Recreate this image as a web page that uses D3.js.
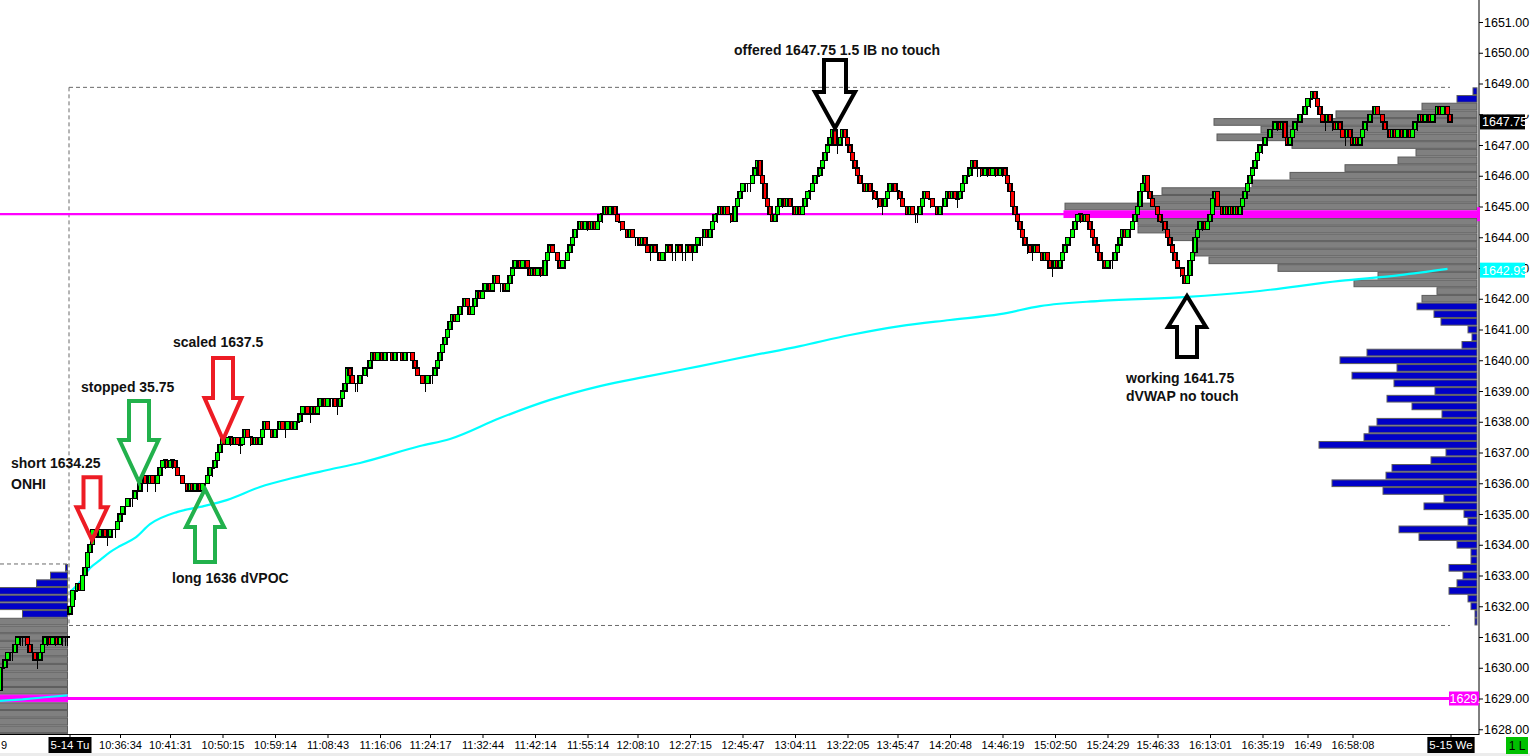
<!DOCTYPE html>
<html><head><meta charset="utf-8">
<script src="https://cdn.jsdelivr.net/npm/d3@7/dist/d3.min.js"></script>
<style>
body{margin:0;background:#fff;overflow:hidden}
svg{display:block}
</style>
</head><body>
<svg id="c" width="1530" height="756"></svg>
<script>
// ---------------- DATA ----------------
// current session (5-14) range bars: close of each bar, open = previous close
const sessionOpen = 1631.75;
const closes = [
1632.0,1632.5,1632.5,1632.75,1632.5,1633.0,1633.25,1633.75,1634.0,1634.5,
1634.5,1634.25,1634.5,1634.5,1634.25,1634.25,1634.5,1634.5,1634.5,
1634.75,1635.0,1635.25,1635.25,1635.5,1635.5,1635.5,1635.75,1635.75,1636.0,1636.25,1636.0,
1636.0,1636.25,1636.0,1636.0,1636.25,1636.5,
1636.75,1636.75,1636.5,1636.75,1636.75,1636.5,
1636.25,1636.25,1636.0,1636.0,1635.75,1636.0,1635.75,1636.0,1636.0,1635.75,1636.0,1636.0,
1636.25,1636.5,1636.5,1636.75,1637.0,1637.25,1637.5,1637.25,1637.5,1637.5,
1637.25,1637.5,1637.25,1637.25,1637.5,1637.75,1637.5,1637.5,1637.25,1637.5,1637.25,1637.5,1637.75,1638.0,1637.75,1637.75,1637.5,1637.75,1637.75,1638.0,1637.75,1637.75,1638.0,1638.0,1637.75,1638.0,1638.0,1638.25,
1638.5,1638.5,1638.25,1638.25,1638.5,1638.25,1638.5,1638.75,1638.75,1638.5,1638.75,1638.75,1638.75,1638.5,1638.5,1638.75,1639.0,1639.25,
1639.75,1639.5,1639.25,1639.25,1639.25,1639.5,1639.5,1639.75,1639.75,1640.0,1640.25,1640.0,1640.25,1640.25,1640.0,1640.25,1640.25,1640.25,1640.0,1640.25,1640.25,1640.25,1640.0,1640.25,1640.25,1640.25,1640.0,1639.75,1639.5,1639.5,1639.25,1639.25,1639.5,1639.5,1639.5,1639.75,1640.0,1640.25,
1640.5,1640.75,1641.0,1641.25,1641.5,1641.25,1641.5,1641.75,1641.75,1642.0,1641.75,1641.5,1641.75,1642.0,1642.25,1642.0,1642.25,1642.5,1642.5,1642.25,1642.5,1642.75,1642.5,1642.5,1642.5,1642.25,1642.5,1642.75,1643.0,1643.25,1643.25,1643.0,1643.25,1643.25,1643.0,1642.75,1643.0,1642.75,1643.0,1643.0,1642.75,1643.25,1643.5,1643.75,1643.5,1643.5,1643.25,1643.0,1643.25,1643.25,1643.5,1643.75,1644.0,
1644.25,1644.25,1644.5,1644.25,1644.5,1644.5,1644.25,1644.5,1644.25,1644.5,1644.75,1644.75,1645.0,1644.75,1645.0,1645.0,1644.75,1644.5,1644.5,1644.25,1644.25,1644.0,1644.25,1644.0,1644.0,1644.0,1643.75,1644.0,1643.75,1643.5,1643.5,1643.75,1643.5,1643.5,1643.25,1643.5,1643.5,1643.75,1643.5,1643.5,1643.5,1643.75,1643.5,1643.5,1643.5,1643.75,1643.5,1643.5,1643.75,1644.0,1644.0,
1644.0,1644.25,1644.0,1644.25,1644.5,1644.75,1644.75,1645.0,1644.75,1645.0,1644.75,1644.75,1644.5,1645.0,1645.25,1645.5,1645.75,1645.75,1645.75,1645.75,1646.0,1646.25,1646.5,1646.0,1645.75,1645.25,1645.0,1644.75,1644.5,1644.75,1645.0,1645.25,1645.25,1645.0,1645.25,1645.0,1645.0,1644.75,1645.0,1644.75,1645.0,1645.25,1645.5,1645.5,1645.75,1646.0,1646.0,1646.25,1646.5,1646.75,1647.0,1647.25,
1647.5,1647.0,1647.0,1647.25,1647.5,1647.25,1647.0,1646.75,1646.5,1646.25,1646.0,1645.75,1645.75,1645.5,1645.75,1645.5,1645.5,1645.25,1645.25,1645.0,1645.0,1645.25,1645.5,1645.75,1645.75,1645.5,1645.5,1645.25,1645.0,1645.0,1644.75,1645.0,1644.75,1644.75,1644.75,1645.0,1645.25,1645.5,1645.25,1645.25,1645.0,1645.0,1644.75,1645.0,1645.0,1645.25,1645.5,1645.25,1645.5,1645.25,1645.25,1645.5,
1645.75,1646.0,1646.0,1646.25,1646.5,1646.25,1646.25,1646.25,1646.0,1646.25,1646.25,1646.0,1646.25,1646.25,1646.0,1646.25,1646.25,1646.0,1645.75,1645.5,1645.0,1644.75,1644.5,1644.25,1644.0,1643.75,1643.75,1643.5,1643.5,1643.75,1643.5,1643.5,1643.25,1643.5,1643.25,1643.0,1643.0,1643.25,1643.0,1643.25,1643.5,1643.75,1644.0,1644.0,1644.25,1644.5,1644.75,1644.75,1644.5,1644.75,1644.5,1644.25,
1644.0,1643.75,1643.5,1643.25,1643.25,1643.0,1643.25,1643.25,1643.25,1643.5,1643.75,1644.0,1644.25,1644.0,1644.25,1644.25,1644.5,1644.75,1645.0,1645.5,1645.75,1646.0,1645.5,1645.25,1645.0,1645.0,1644.75,1644.5,1644.5,1644.25,1644.0,1643.75,1643.5,1643.25,1643.0,1643.0,1642.75,1642.5,1642.75,1643.25,1643.5,1644.0,1644.25,1644.5,1644.5,1644.25,1644.5,1644.75,1645.25,1645.5,1645.0,1645.0,
1644.75,1645.0,1644.75,1645.0,1644.75,1645.0,1644.75,1645.0,1645.25,1645.5,1645.75,1646.0,1646.25,1646.5,1646.75,1647.0,1647.0,1647.25,1647.25,1647.5,1647.5,1647.75,1647.75,1647.5,1647.75,1647.25,1647.0,1647.25,1647.5,1647.75,1647.75,1648.0,1648.0,1648.25,1648.5,1648.5,1648.75,1648.5,1648.25,1648.0,1647.75,1647.75,1648.0,1647.75,1647.75,1647.5,1647.75,1647.5,1647.25,1647.25,1647.5,1647.25,
1647.0,1647.25,1647.0,1647.25,1647.5,1647.75,1647.75,1648.0,1648.0,1648.25,1648.0,1648.0,1647.75,1647.5,1647.5,1647.25,1647.5,1647.25,1647.5,1647.5,1647.25,1647.5,1647.5,1647.25,1647.5,1647.75,1647.75,1648.0,1647.75,1648.0,1648.0,1647.75,1648.0,1648.0,1648.25,1648.0,1648.25,1648.25,1648.0,1647.75
];

// tail of previous session (5-13)
const prevOpen = 1629.25;
const prevCloses = [1630.0,1630.0,1630.25,1630.5,1630.5,1630.5,1630.75,1631.0,1631.0,1631.0,1631.0,1630.75,1630.5,1630.5,1630.25,1630.25,1630.5,1630.75,1631.0,1631.0,1630.75,1631.0,1631.0,1630.75,1631.0,1631.0,1631.0,1631.0];

// session VWAP (bar index, price)
const vwapBars = [0,4,8,12,16,20,26,32,43,52,63,76,89,103,116,140,152,172,192,212,232,252,272,292,312,332,352,372,388,412,447,472,508,532,551];
const vwapVals = [1632.46,1632.79,1633.24,1633.50,1633.76,1633.96,1634.22,1634.67,1635.07,1635.23,1635.46,1635.88,1636.17,1636.43,1636.66,1637.21,1637.44,1638.12,1638.71,1639.16,1639.49,1639.81,1640.14,1640.46,1640.82,1641.11,1641.31,1641.50,1641.76,1641.93,1642.06,1642.22,1642.58,1642.77,1642.97];
const prevVwapBars = [0,9,18,27];
const prevVwapVals = [1628.92,1628.97,1629.04,1629.10];

// volume profile of the session, from 1648.75 down by one tick (0.25)
const rightTop = 1648.75;
const rightVolumes = [4,20,55,141,263,216,260,185,61,79,132,187,225,315,324,412,413,339,339,307,280,282,268,199,99,123,40,55,60,43,36,9,5,15,110,137,80,125,83,42,90,65,35,100,108,113,158,31,46,85,91,145,94,33,53,13,9,78,58,20,6,6,28,14,20,28,9,6,2,2];
const rightVAHigh = 1648.25, rightVALow = 1642.0, rightPOC = 1644.75;
// previous session profile (tail), from 1633.25 down
const leftTop = 1633.25;
const leftVolumes = [2,17,31,90,95,90,45,110,125,140,150,160,150,140,135,130,150,170,180,160,140,120,100];
const leftVAHigh = 1631.5, leftPOC = 1629.0;

// reference levels
const sessionHigh = 1648.75, sessionLow = 1631.5, prevHigh = 1633.25;
const lastPrice = 1647.75, vwapLast = 1642.93;

// axis ticks
const priceTicks = d3.range(1628, 1652, 1);
const timeLabels = ["10:36:34","10:41:31","10:50:15","10:59:14","11:08:43","11:16:06","11:24:17","11:32:44","11:42:14","11:55:14","12:08:10","12:27:15","12:45:47","13:04:11","13:22:05","13:45:47","14:20:48","14:46:19","15:02:50","15:24:29","15:46:33","16:13:01","16:35:19","16:49","16:58:08"];
const timeTickBars = [20,40,61,82,103,124,144,165,186,207,227,248,269,290,311,331,352,373,394,415,435,456,477,495,513];
const sessionLabels = ["5-14 Tu","5-15 We"];
const sessionLabelBars = [0,552.4];

// annotations (anchor bar, anchor price)
const noteTexts = ["offered 1647.75 1.5 IB no touch","scaled 1637.5","stopped 35.75","short 1634.25","ONHI","long 1636 dVPOC","working 1641.75","dVWAP no touch"];
const noteBars = [265.6,41.2,4.4,-23.6,-23.6,40.8,422.4,422.4];
const notePrices = [1649.93,1640.43,1638.97,1636.50,1635.81,1632.76,1639.26,1638.67];

// arrows (tip bar, tip price)
const arrowTipBars = [8.8,27.6,61.2,54,306,446.8];
const arrowTipPrices = [1634.15,1636.04,1637.41,1635.81,1647.55,1642.09];
const arrowDirs = ["down","down","down","up","down","up"];
const arrowColors = ["#ED1C24","#22B14C","#ED1C24","#22B14C","#000000","#000000"];
// geometry (px): total length, head length, head half width, shaft half width
const arrowGeom = [[63,33,15.5,8.5],[81,42,19.5,10],[82,42,18.5,10],[73,38,19,10],[68,36,20,11],[61,31,19,10]];

// ---------------- CHART ----------------
const FONT = "'Liberation Sans', Arial, sans-serif";
const svg = d3.select("#c");
const plotR = 1478, plotB = 734, axisX = 1479;

const x = d3.scaleLinear().domain([0, closes.length - 1]).range([70, 1450]);
const xp = d3.scaleLinear().domain([0, prevCloses.length - 1]).range([0, 67.5]);
const y = d3.scaleLinear().domain([1628, 1651]).range([729.25, 22]);
const tickPx = y(1628) - y(1628.25);
const vx = d3.scaleLinear().domain([0, 413]).range([0, 413]);

svg.append("rect").attr("width",1530).attr("height",756).attr("fill","#fff");
svg.append("rect").attr("x",0).attr("y",753).attr("width",1530).attr("height",3).attr("fill","#ececec");

const defs = svg.append("defs");
defs.append("clipPath").attr("id","plot").append("rect").attr("x",0).attr("y",0).attr("width",plotR).attr("height",plotB);
const g = svg.append("g").attr("clip-path","url(#plot)");

// profiles
function drawProfile(vols, top, rightEdge, vaHigh, vaLow, poc) {
  const lv = vols.map((v, i) => top - i * 0.25);
  g.append("g").selectAll("rect").data(lv).join("rect")
    .attr("x", (d, i) => rightEdge - vx(vols[i]))
    .attr("y", d => y(d + 0.125) + 0.5)
    .attr("width", (d, i) => vx(vols[i]))
    .attr("height", tickPx - 1)
    .attr("fill", d => d === poc ? "#FF00FF" : (d <= vaHigh && d >= vaLow ? "#808080" : "#0000C8"))
    .attr("stroke", d => d === poc ? "#FF00FF" : "#5c5c5c")
    .attr("stroke-width", 1);
}
drawProfile(leftVolumes, leftTop, 67.5, leftVAHigh, -Infinity, leftPOC);
drawProfile(rightVolumes, rightTop, 1477, rightVAHigh, rightVALow, rightPOC);

// dashed range box
const dash = {stroke:"#6a6a6a", "stroke-dasharray":"4,3", "stroke-width":1};
function dline(x1,y1,x2,y2){ const l=g.append("line").attr("x1",x1).attr("y1",y1).attr("x2",x2).attr("y2",y2); Object.entries(dash).forEach(([k,v])=>l.attr(k,v)); }
dline(x(0)-1, y(sessionHigh+0.125), x(closes.length-1), y(sessionHigh+0.125));
dline(x(0)-1, y(sessionLow-0.125), x(closes.length-1), y(sessionLow-0.125));
dline(x(0)-1, y(sessionHigh+0.125), x(0)-1, y(sessionLow-0.125));
dline(0, y(prevHigh+0.125), 67, y(prevHigh+0.125));

// magenta levels
g.append("line").attr("x1",0).attr("x2",1477).attr("y1",y(rightPOC)).attr("y2",y(rightPOC)).attr("stroke","#FF00FF").attr("stroke-width",2.2);
g.append("line").attr("x1",0).attr("x2",1449).attr("y1",y(leftPOC)).attr("y2",y(leftPOC)).attr("stroke","#FF00FF").attr("stroke-width",3);

// VWAP
const vline = d3.line().curve(d3.curveMonotoneX);
g.append("path").attr("d", vline(vwapBars.map((b,i)=>[x(b), y(vwapVals[i])]))).attr("fill","none").attr("stroke","#00FFFF").attr("stroke-width",2.2);
g.append("path").attr("d", d3.line()(prevVwapBars.map((b,i)=>[xp(b), y(prevVwapVals[i])]))).attr("fill","none").attr("stroke","#00FFFF").attr("stroke-width",2.2);

// candles
function drawCandles(data, open0, xs) {
  const bars = data.map((c, i) => ({i, o: i ? data[i-1] : open0, c}));
  const gc = g.append("g").attr("shape-rendering","crispEdges");
  const doji = bars.filter(b => b.o === b.c);
  gc.selectAll("line.w").data(doji).join("line").attr("class","w")
    .attr("x1", b => xs(b.i)).attr("x2", b => xs(b.i))
    .attr("y1", b => y(b.c)).attr("y2", b => y(b.c - 0.25) + 1)
    .attr("stroke","#000").attr("stroke-width",1);
  gc.selectAll("line.h").data(doji).join("line").attr("class","h")
    .attr("x1", b => xs(b.i) - 2.5).attr("x2", b => xs(b.i) + 2.5)
    .attr("y1", b => y(b.c)).attr("y2", b => y(b.c))
    .attr("stroke","#000").attr("stroke-width",1.5);
  gc.selectAll("rect").data(bars.filter(b => b.o !== b.c)).join("rect")
    .attr("x", b => xs(b.i) - 2).attr("width", 4)
    .attr("y", b => y(Math.max(b.o, b.c)))
    .attr("height", b => Math.abs(y(b.o) - y(b.c)))
    .attr("fill", b => b.c > b.o ? "#00FF00" : "#FF0000")
    .attr("stroke","#000").attr("stroke-width",1.2);
}
drawCandles(prevCloses, prevOpen, xp);
drawCandles(closes, sessionOpen, x);

// arrows
const ga = svg.append("g");
arrowTipBars.forEach((b, k) => {
  const tx = x(b), ty = y(arrowTipPrices[k]);
  const [L, hl, hh, sh] = arrowGeom[k];
  const s = arrowDirs[k] === "down" ? -1 : 1;
  const pts = [[tx - sh, ty + s*L],[tx + sh, ty + s*L],[tx + sh, ty + s*hl],[tx + hh, ty + s*hl],[tx, ty],[tx - hh, ty + s*hl],[tx - sh, ty + s*hl]];
  ga.append("path").attr("d", d3.line()(pts) + "Z")
    .attr("fill","none").attr("stroke", arrowColors[k]).attr("stroke-width",4).attr("stroke-linejoin","miter");
});

// annotations
svg.append("g").selectAll("text").data(noteTexts).join("text")
  .attr("x", (d,i) => x(noteBars[i])).attr("y", (d,i) => y(notePrices[i]))
  .attr("font-family", FONT).attr("font-weight","bold").attr("font-size",14).attr("fill","#111")
  .text(d => d);

// right axis
svg.append("line").attr("x1",axisX).attr("x2",axisX).attr("y1",0).attr("y2",plotB+1).attr("stroke","#000");
const ra = svg.append("g").attr("transform",`translate(${axisX},0)`)
  .call(d3.axisRight(y).tickValues(priceTicks).tickFormat(d3.format(".2f")).tickSize(4).tickPadding(1));
ra.select(".domain").remove();
ra.selectAll("text").attr("font-family",FONT).attr("font-size",12.5).attr("fill","#000");
// the label hidden behind the last-price tag only peeks out above it
defs.append("clipPath").attr("id","peek").append("rect").attr("x",0).attr("y",0).attr("width",60).attr("height",y(lastPrice)-7.5);
ra.selectAll(".tick").filter(d => Math.abs(d - lastPrice) < 0.5).select("text").attr("clip-path","url(#peek)").attr("transform",null);

// magenta marker on axis
svg.append("rect").attr("x",1477).attr("y",y(rightPOC)-7).attr("width",3).attr("height",14).attr("fill","#FF00FF");

// bottom axis
svg.append("line").attr("x1",0).attr("x2",axisX).attr("y1",plotB+0.5).attr("y2",plotB+0.5).attr("stroke","#000");
const ba = svg.append("g").attr("transform",`translate(0,${plotB})`)
  .call(d3.axisBottom(x).tickValues(timeTickBars).tickFormat((d,i)=>timeLabels[i]).tickSize(4).tickPadding(3));
ba.select(".domain").remove();
ba.selectAll("text").attr("font-family",FONT).attr("font-size",11).attr("fill","#000");
svg.append("text").attr("x",1).attr("y",749).attr("font-family",FONT).attr("font-size",11).text("9");

// session labels
sessionLabelBars.forEach((b,i) => {
  const cx = x(b);
  svg.append("line").attr("x1",cx).attr("x2",cx).attr("y1",plotB).attr("y2",plotB+4).attr("stroke","#000");
  const t = svg.append("text").attr("x",cx).attr("y",749).attr("text-anchor","middle")
    .attr("font-family",FONT).attr("font-size",11.5).attr("fill","#fff").text(sessionLabels[i]);
  const bb = t.node().getBBox();
  svg.insert("rect", () => t.node()).attr("x",bb.x-2).attr("y",737).attr("width",bb.width+4).attr("height",16).attr("fill","#000");
});
// "1 L" box
svg.append("rect").attr("x",1506).attr("y",737).attr("width",22).attr("height",17).attr("fill","#00C000");
svg.append("text").attr("x",1517).attr("y",750).attr("text-anchor","middle").attr("font-family",FONT).attr("font-size",12).attr("fill","#000").text("1 L");

// price labels on axis
function priceTag(p, bg, fg) {
  const cy = y(p);
  svg.append("rect").attr("x",axisX+1).attr("y",cy-7.5).attr("width",45).attr("height",15).attr("fill",bg);
  svg.append("text").attr("x",axisX+3).attr("y",cy).attr("dy","0.35em").attr("font-family",FONT).attr("font-size",12.5).attr("fill",fg).text(d3.format(".2f")(p));
}
priceTag(lastPrice, "#000", "#fff");
priceTag(vwapLast, "#00FFFF", "#fff");

// magenta 1629 tag (left of axis)
svg.append("rect").attr("x",1449).attr("y",y(leftPOC)-7).attr("width",30).attr("height",14).attr("fill","#FF00FF");
svg.append("text").attr("x",1449.5).attr("y",y(leftPOC)).attr("dy","0.35em")
  .attr("font-family",FONT).attr("font-size",12.5).attr("fill","#fff").text("1629.");
</script>
</body></html>
